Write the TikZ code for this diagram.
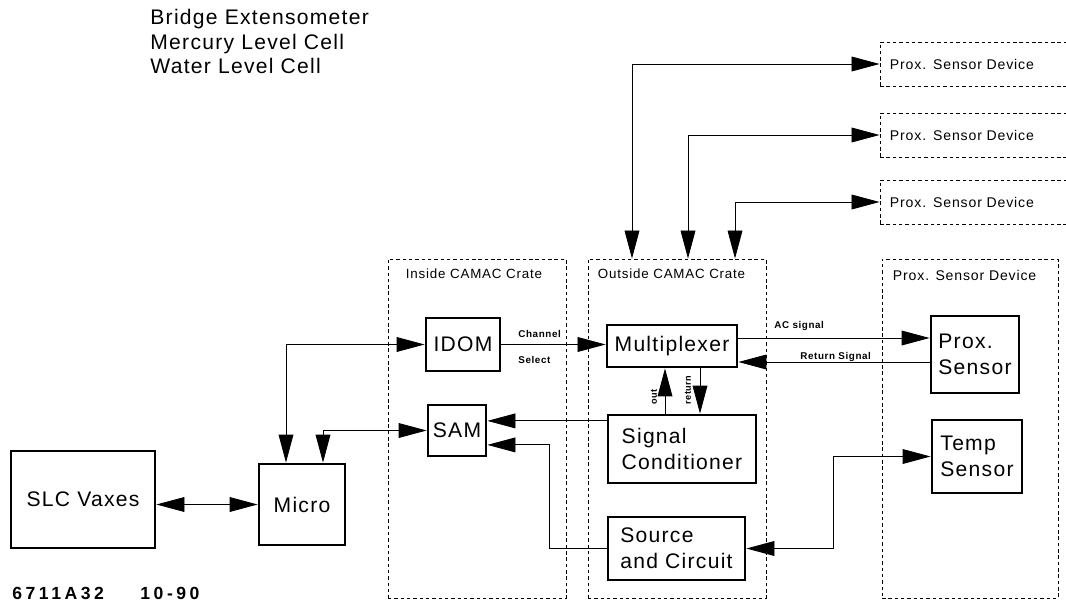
\documentclass[tikz,border=0pt]{standalone}
\usepackage{fontspec}
\setmainfont[LetterSpace=6]{Liberation Sans}
\newfontfamily\stampfont[LetterSpace=20]{Liberation Sans}
\usetikzlibrary{arrows.meta,positioning,calc}

\begin{document}
\begin{tikzpicture}[x=0.025cm,y=-0.025cm,line width=0.6pt,
    >={Triangle[length=0.7cm,width=0.37cm]},
    blk/.style={draw,line width=2pt,inner sep=0pt,align=left,font=\fontsize{15}{18.5}\selectfont},
    crate/.style={draw,line width=0.6pt,dash pattern=on 2.5pt off 2pt,inner sep=0pt},
    cratelbl/.style={inner sep=0pt,anchor=base west,font=\fontsize{9.5}{11}\selectfont},
    notetxt/.style={inner sep=0pt,anchor=base west,font=\fontsize{15}{18}\selectfont},
    sigtag/.style={inner sep=0pt,font=\bfseries\fontsize{7}{8}\selectfont},
    stamp/.style={inner sep=0pt,anchor=base west,font=\stampfont\bfseries\fontsize{12.5}{14}\selectfont}]
  \useasboundingbox (0,0) rectangle (1066,604);
  \clip (0,0) rectangle (1066,604);

  % sensor list
  \foreach \t [count=\i] in {Bridge Extensometer,Mercury Level Cell,Water Level Cell}
    \node[notetxt] (note\i) at (150,{25+24.5*(\i-1)}) {\t};

  % crates
  \node[crate,minimum width=4.45cm,minimum height=8.475cm] (inside) at (477,428.5) {};
  \node[crate,minimum width=4.45cm,minimum height=8.475cm] (outside) at (677,428.5) {};
  \node[crate,minimum width=4.4cm,minimum height=8.475cm] (proxdev) at (970,428.5) {};
  \node[cratelbl] (insidelbl) at ([shift={(0.45cm,-0.5cm)}]inside.north west) {Inside CAMAC Crate};
  \node[cratelbl] (outsidelbl) at ([shift={(0.25cm,-0.5cm)}]outside.north west) {Outside CAMAC Crate};
  \node[cratelbl,font=\fontsize{10}{12}\selectfont] (proxdevlbl) at ([shift={(0.275cm,-0.55cm)}]proxdev.north west) {Prox. Sensor Device};
  \foreach \n/\y in {1/64,2/135,3/202}
    \node[crate,minimum width=4.875cm,minimum height=1.1cm,inner xsep=0.25cm,text width=4.375cm,
      align=left,font=\fontsize{10}{12}\selectfont] (dev\n) at (977.5,\y) {Prox. Sensor Device};

  % blocks
  \node[blk,minimum width=3.6cm,minimum height=2.425cm] (slc) at (83,499.5) {SLC Vaxes};
  \node[blk,minimum width=2.15cm,minimum height=2.025cm] (micro) at (302,504.5) {Micro};
  \node[blk,minimum width=1.85cm,minimum height=1.325cm] (idom) at (463,344.5) {IDOM};
  \node[blk,minimum width=1.45cm,minimum height=1.275cm] (sam) at (457,430.5) {SAM};
  \node[blk,minimum width=3.25cm,minimum height=1.05cm] (mux) at (672,346) {Multiplexer};
  \node[blk,minimum width=3.7cm,minimum height=1.7cm] (sigcond) at (682,449) {Signal\\Conditioner};
  \node[blk,minimum width=3.425cm,minimum height=1.575cm] (source) at (676.5,548.5) {Source\\and Circuit};
  \node[blk,minimum width=2.2cm,minimum height=1.925cm] (prox) at (975,354.5) {Prox.\\Sensor};
  \node[blk,minimum width=2.25cm,minimum height=1.825cm] (temp) at (977,456.5) {Temp\\Sensor};

  % links
  \draw[<->] (micro.west -| slc.east) -- (micro.west);
  \draw[<->] (idom.west) -| ([xshift=-0.4cm]micro.north);
  \draw[<->] (sam.west) -| ([xshift=0.525cm]micro.north);
  \draw[->] (idom.east) -- (idom.east -| mux.west);
  \node[sigtag,anchor=base west] (chan) at (518,337) {Channel};
  \node[sigtag,anchor=base west] (sel) at (518,363) {Select};

  \coordinate (acout) at ([yshift=0.2cm]mux.east);
  \coordinate (retin) at ([yshift=-0.4cm]mux.east);
  \draw[->] (acout) -- (acout -| prox.west);
  \draw[<-] (retin) -- (retin -| prox.west);
  \node[sigtag,anchor=base west] (aclbl) at (774,328) {AC signal};
  \node[sigtag,anchor=base west] (retlbl) at (800,359) {Return Signal};

  \coordinate (outc) at ([xshift=-0.175cm]mux.south);
  \coordinate (retc) at ([xshift=0.7cm]mux.south);
  \draw[->] (outc |- sigcond.north) -- (outc);
  \draw[->] (retc) -- (retc |- sigcond.north);
  \node[sigtag,rotate=90,font=\bfseries\fontsize{6.5}{8}\selectfont] (outlbl) at (654,397) {out};
  \node[sigtag,rotate=90,font=\bfseries\fontsize{6.5}{8}\selectfont] (returnlbl) at (688,390) {return};

  \coordinate (samup) at ([yshift=0.24cm]sam.east);
  \coordinate (samdn) at ([yshift=-0.36cm]sam.east);
  \draw[->] (samup -| sigcond.west) -- (samup);
  \draw[->] (source.west) -| ([xshift=1.55cm]samdn) -- (samdn);
  \draw[<->] (source.east) -- ++(87,0) |- (temp.west);

  \foreach \n/\dx in {1/-1.125cm,2/0.275cm,3/1.45cm}
    \draw[<->] (dev\n.west) -| ([xshift=\dx]outside.north);

  % drawing number
  \node[stamp] (fignum) at (12,599) {6711A32};
  \node[stamp] (figdate) at (140,599) {10-90};
\end{tikzpicture}
\end{document}
